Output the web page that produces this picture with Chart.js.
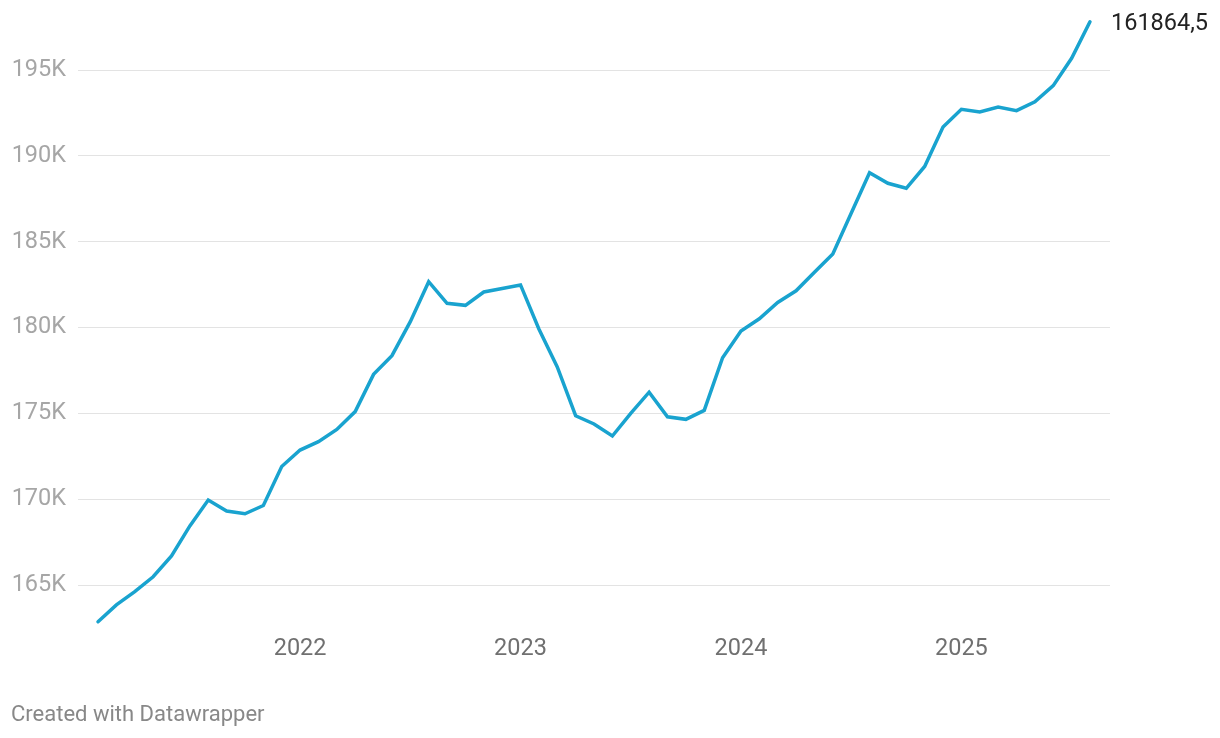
<!DOCTYPE html>
<html>
<head>
<meta charset="utf-8">
<script src="https://cdn.jsdelivr.net/npm/chart.js@4"></script>
<style>
  html, body { margin: 0; padding: 0; background: #fff; }
  #wrap { position: relative; width: 1220px; height: 738px; }
  #chart { position: absolute; left: 0; top: 0; }
  .footer {
    position: absolute; left: 11px; top: 701px;
    font-family: Roboto, sans-serif; font-size: 22px; color: #888;
  }
</style>
</head>
<body>
<div id="wrap">
  <canvas id="chart" width="1220" height="738"></canvas>
  <div class="footer">Created with Datawrapper</div>
</div>
<script>
// months shown on the x axis (one point per month)
const months = [
  '2021-02','2021-03','2021-04','2021-05','2021-06','2021-07','2021-08','2021-09','2021-10','2021-11','2021-12',
  '2022-01','2022-02','2022-03','2022-04','2022-05','2022-06','2022-07','2022-08','2022-09','2022-10','2022-11','2022-12',
  '2023-01','2023-02','2023-03','2023-04','2023-05','2023-06','2023-07','2023-08','2023-09','2023-10','2023-11','2023-12',
  '2024-01','2024-02','2024-03','2024-04','2024-05','2024-06','2024-07','2024-08','2024-09','2024-10','2024-11','2024-12',
  '2025-01','2025-02','2025-03','2025-04','2025-05','2025-06','2025-07','2025-08'
];

// values in thousands
const values = [
  162.86, 163.84, 164.61, 165.48, 166.69, 168.44, 169.95, 169.31, 169.15, 169.63, 171.90,
  172.86, 173.35, 174.06, 175.10, 177.27, 178.36, 180.34, 182.67, 181.41, 181.29, 182.07, 182.27,
  182.48, 179.91, 177.70, 174.86, 174.38, 173.68, 175.00, 176.23, 174.80, 174.65, 175.17, 178.24,
  179.80, 180.51, 181.46, 182.14, 183.22, 184.28, 186.65, 189.02, 188.40, 188.11, 189.38, 191.68,
  192.71, 192.55, 192.84, 192.63, 193.15, 194.09, 195.68, 197.81
];

const yTicks = [165, 170, 175, 180, 185, 190, 195];
const endLabel = '161864,5';

const lineColor = '#19a3cf';

// label next to the last point
const endLabelPlugin = {
  id: 'endLabel',
  afterDatasetsDraw(chart) {
    const meta = chart.getDatasetMeta(0);
    const last = meta.data[meta.data.length - 1];
    const ctx = chart.ctx;
    ctx.save();
    ctx.font = '23.5px Roboto, sans-serif';
    ctx.fillStyle = '#222';
    ctx.textAlign = 'left';
    ctx.textBaseline = 'middle';
    ctx.fillText(endLabel, last.x + 21, last.y + 2);
    ctx.restore();
  }
};

new Chart(document.getElementById('chart'), {
  type: 'line',
  data: {
    datasets: [{
      data: values.map((v, i) => ({ x: i, y: v })),
      borderColor: lineColor,
      borderWidth: 3.5,
      borderCapStyle: 'round',
      pointRadius: 0,
      tension: 0,
    }],
  },
  options: {
    responsive: false,
    animation: false,
    layout: { padding: { top: 18.5, right: 110, bottom: 0, left: 0 } },
    plugins: { legend: { display: false }, tooltip: { enabled: false } },
    scales: {
      x: {
        type: 'linear',
        min: -1.09,
        max: 55.09,
        afterFit: s => {
          s.height = 738 - 636.5;
          s.paddingLeft = 0; s.paddingRight = 0;
        },
        afterBuildTicks: s => {
          s.ticks = months.map((m, i) => ({ value: i, m })).filter(t => t.m.endsWith('-01')).map(t => ({ value: t.value }));
        },
        ticks: {
          autoSkip: false,
          maxRotation: 0,
          padding: -9,
          color: '#707070',
          font: { family: 'Roboto', size: 23.5 },
          callback: v => months[v].slice(0, 4),
        },
        grid: { display: false },
        border: { display: false },
      },
      y: {
        min: 162,
        max: 198,
        afterFit: s => {
          s.width = 78;
          s.paddingTop = 0; s.paddingBottom = 0;
        },
        afterBuildTicks: s => { s.ticks = yTicks.map(v => ({ value: v })); },
        ticks: {
          padding: 12,
          color: '#a6a6a6',
          font: { family: 'Roboto', size: 23.5 },
          callback: v => v + 'K',
        },
        grid: { color: '#e3e3e3', lineWidth: 1, drawTicks: false },
        border: { display: false },
      },
    },
  },
  plugins: [endLabelPlugin],
});
</script>
</body>
</html>
